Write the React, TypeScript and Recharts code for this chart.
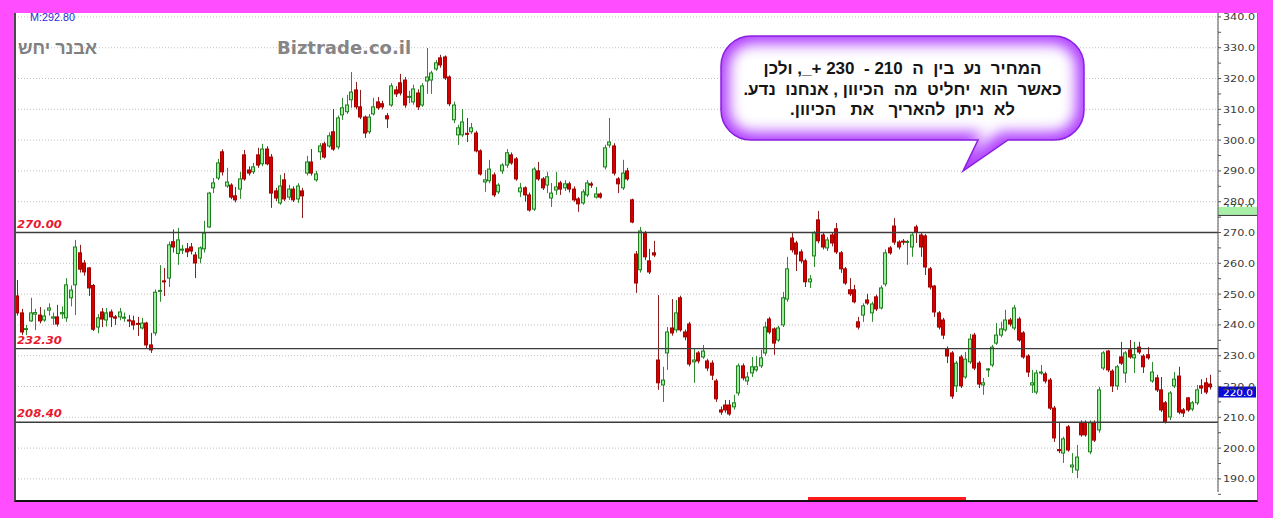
import React from "react";
import {
  ComposedChart,
  Bar,
  XAxis,
  YAxis,
  CartesianGrid,
  ReferenceLine,
} from "recharts";

// daily OHLC left to right
const opens = [
  249.4, 243.9, 238.5, 241.3, 243.5, 243.2, 241.6, 244.8, 242.2, 242.6,
  243.6, 242.3, 248.8, 253, 263.4, 260.1, 258.5, 252.8, 239.3, 244.2,
  241.6, 244.2, 242.6, 242.6, 242.3, 241.6, 241.3, 240.5, 239, 240.6,
  233.5, 237.4, 250.9, 254.3, 255.2, 267, 263.2, 264.4, 264.7, 265.3,
  262.7, 261.7, 264.7, 271.8, 284.5, 287.7, 296.2, 285.1, 285.4, 281.9,
  284.1, 295.2, 290.3, 289.7, 295.2, 292.3, 297.1, 294.5, 283.5, 279.6,
  287.1, 281.5, 284.1, 280.9, 283.5, 289.3, 292.9, 287.1, 296.2, 298.8,
  298.1, 302.7, 297.8, 308.2, 309.2, 313.1, 316.3, 310.8, 307.5, 302.7,
  308.5, 312.4, 311.8, 307.9, 311.4, 316.3, 318.6, 319.5, 314, 312.4,
  315.3, 311.4, 319.2, 319.5, 323.1, 326.7, 327, 320.5, 306.6, 301.7,
  301.7, 302.2, 302.7, 302.3, 296.5, 286.4, 286.8, 288.7, 283.2, 290,
  291.9, 295.2, 293.9, 283.2, 284.5, 282.2, 277.6, 290, 287.4, 285.4,
  281.2, 283.8, 286.1, 284.5, 285.8, 284.1, 280.9, 279.6, 282.2, 285.8,
  281.5, 282.5, 291.3, 298.4, 298.1, 287.4, 284.5, 290, 280.6, 263,
  257.9, 269.9, 260.8, 263.4, 228.6, 220.5, 230.9, 239, 238.4, 248.8,
  237.7, 240.3, 228, 230.9, 229.6, 228.3, 227.6, 221.8, 212.4, 214,
  214, 213.4, 217.9, 226.7, 221.8, 224.4, 225.4, 226.7, 230.9, 241.9,
  238.7, 235.1, 240, 248.4, 268.2, 266.6, 263.7, 260.8, 254, 262.4,
  274.1, 269.2, 265, 269.2, 271.2, 263.4, 258.2, 251.4, 251.4, 241,
  243.2, 248.1, 243.9, 249.1, 245.5, 253.3, 265, 272.1, 266.9, 267.2,
  266.8, 265.3, 271.8, 269.2, 268.9, 258.2, 252.6, 243.9, 241.6, 232.2,
  230.9, 220.2, 229.6, 223.1, 228, 236.7, 227.6, 220.5, 225.4, 227,
  234.1, 236.7, 238.4, 241.6, 239, 241.9, 237.4, 229.9, 220.5, 218.2,
  224.4, 224.1, 222.1, 213, 199.5, 198.4, 206.9, 193.9, 192.9, 208.2,
  208.2, 198.8, 208.2, 205.9, 226, 231.5, 225, 220.2, 229.6, 224.4,
  231.9, 229.3, 232.8, 229.9, 230.3, 221.8, 222.8, 218.9, 214.7, 210.1,
  220.2, 223.4, 212.4, 216.3, 212.7, 214.7, 220.2, 221.2, 220.8,
];

const highs = [
  254.6, 245.2, 240, 248.8, 245.2, 245.8, 245, 247, 244, 246.5,
  246, 255.2, 252.8, 267.6, 266, 261.1, 258.8, 253.3, 243.5, 245.5,
  245.5, 245, 243.2, 245.5, 244, 243.2, 243, 242.6, 242.3, 241,
  237.4, 251.5, 259.4, 258.5, 267, 271, 271.5, 266, 266.6, 266.6,
  263.7, 265.5, 273.8, 283.2, 287.7, 293.9, 297, 291, 286, 284.8,
  289.7, 296.8, 291.5, 292.6, 297.5, 298.8, 298, 295.5, 284.5, 288.7,
  289.3, 285.5, 285, 286, 284.5, 294.9, 297.1, 290, 299, 299.5,
  302.5, 310.1, 308, 313.7, 314.7, 322.1, 318.9, 316.3, 308, 308.5,
  313.7, 314, 312.8, 308.8, 318.5, 317.5, 321.5, 320.5, 316, 318,
  316.5, 318.5, 329.9, 322.5, 326, 327.7, 327.5, 321, 312.5, 305,
  310.1, 307.2, 305.6, 303, 297, 290.3, 293.6, 289.5, 286, 292.5,
  297.1, 296, 294.5, 286.1, 285, 283, 291.2, 292.9, 288, 289.7,
  286.1, 289.7, 286.8, 287, 286.5, 285, 281.5, 284, 287, 286.5,
  284.8, 283, 298.5, 307.2, 299, 288, 293.6, 291, 281, 264,
  271.8, 270.5, 264.7, 267.3, 249.7, 226.4, 239.3, 248.4, 248.1, 249.5,
  238.5, 241, 232.5, 231.5, 233.5, 229, 228.5, 222.5, 213.5, 215.6,
  215.6, 217.3, 227.5, 227.5, 224.7, 229.6, 229.9, 231.9, 241, 242.6,
  239.2, 239.7, 250.7, 262.1, 269.9, 267.3, 264.5, 261.5, 256.2, 270.5,
  277, 270, 268.5, 270, 273.1, 264, 258.8, 255.2, 253, 242.6,
  247, 250.1, 247.5, 249.8, 252.8, 264.5, 265.6, 274.7, 267.5, 267.9,
  267.6, 270, 272.5, 270, 269.5, 258.8, 253, 244.5, 242.3, 233,
  231.5, 228.3, 230.3, 231.2, 237.1, 237.4, 228.3, 222.8, 226, 233.5,
  240.6, 241, 244.9, 242.3, 246.5, 242.6, 238, 230.5, 225.4, 225.4,
  227, 224.8, 222.8, 213.7, 208.5, 203.7, 207.5, 198.4, 201, 209,
  209, 209, 209, 219.9, 231.5, 231.9, 225.6, 227, 234.5, 231.5,
  235.1, 234.5, 234.5, 230.5, 232.8, 228, 223.8, 223.1, 215.3, 218.5,
  224.7, 226.4, 213, 216.6, 215.3, 220.5, 222.4, 222.8, 223.8,
];

const lows = [
  243, 236.7, 236.7, 241, 238.3, 240.5, 241, 243, 240, 239.5,
  242, 241, 246, 243.2, 257, 256, 249.4, 238, 237.3, 239.3,
  239.5, 239.3, 240, 241.5, 241, 239.3, 238.4, 236.4, 238.5, 232.5,
  230.9, 236.5, 247.5, 249.4, 252.3, 263.5, 259.5, 263, 262, 262.9,
  255.2, 260, 263.5, 271.5, 282.8, 287, 288.5, 284.5, 280.8, 279.8,
  280.9, 286.8, 288.5, 289, 291, 291.5, 291.8, 278, 280.2, 279,
  280.2, 280.6, 279.9, 279.6, 274.7, 288.5, 288.5, 286.5, 293.6, 294,
  297.5, 296.5, 297, 306.6, 308.5, 310.5, 310, 306.8, 300.7, 302,
  308, 309.8, 310, 303.9, 310.8, 314, 314.5, 310.5, 312, 311.5,
  309.8, 310.8, 315, 315, 322.5, 323.5, 319.5, 311, 305.5, 298.4,
  301, 299.4, 302, 296, 288.5, 283.2, 286, 281.5, 282.5, 289,
  291, 292, 286.8, 281.5, 280, 276.8, 277, 286.8, 283.8, 282.8,
  278.3, 282.2, 282.2, 283.5, 283, 280, 276.7, 279, 281.5, 284.5,
  281, 281, 290.5, 297.5, 288.5, 282.8, 283.8, 286.8, 273, 250.4,
  257, 261, 256.5, 262, 218.9, 215, 225.4, 236.5, 237.5, 237.8,
  235, 226.5, 221.2, 227.5, 229, 225, 222.1, 215, 210.8, 211.5,
  210.5, 212.5, 217, 222, 220.5, 223.1, 224.8, 226, 230, 237,
  230.3, 234.5, 239.3, 247.5, 263.5, 257.5, 260, 252.3, 252, 258.8,
  266.5, 264.5, 264, 265.5, 263, 256.9, 253, 249.4, 247, 238.5,
  241, 246.5, 241, 244.5, 245, 252.5, 262.8, 266, 264.5, 266,
  259.5, 262.1, 266.6, 262.1, 256.2, 251.5, 242.6, 238.5, 235.4, 227.6,
  216, 218.2, 219.5, 222.5, 227.3, 225.3, 219.5, 217.3, 223.1, 226.3,
  233.5, 236, 237.8, 239.5, 238.3, 234.5, 229, 223.1, 217.9, 217.5,
  223.8, 221, 212.4, 202, 198.4, 195.2, 198.8, 191.9, 190.3, 203.7,
  203.7, 198, 202, 205, 225.3, 224.7, 218.2, 218.9, 227, 221.2,
  229, 224.4, 230.5, 224.4, 228.7, 221.2, 218.2, 211.7, 208, 209.1,
  219.5, 211, 210.1, 211.8, 212, 214, 217.6, 217.5, 219,
];

const closes = [
  243.9, 237.7, 238.8, 243.9, 244, 241.3, 242.9, 245.5, 242.6, 240.3,
  244, 253, 251.3, 265.3, 258.1, 257.2, 252, 238.6, 242.3, 241.9,
  243.9, 242.6, 242.2, 244.2, 242.5, 241.3, 240, 240.2, 240.6, 233.5,
  231.9, 250.6, 251.2, 254, 266, 265.3, 267.6, 264.6, 263.7, 264,
  260.1, 265, 269.8, 282.8, 286.1, 292.6, 289.7, 286.4, 281.5, 280.6,
  287.4, 287.4, 289.3, 291.3, 291.9, 297.1, 292.3, 282.8, 281.2, 285.1,
  280.9, 284.1, 280.6, 285.1, 281.9, 292.9, 289.3, 289, 298.1, 294.5,
  301.4, 297.1, 307.2, 310.5, 311.4, 315.6, 310.8, 307.5, 302.3, 307.5,
  310.8, 310.5, 310.8, 306.9, 317.6, 315, 315.3, 311.4, 314.2, 316.6,
  310.8, 317.6, 320.5, 321.8, 325.1, 324.4, 320.2, 311.8, 311.4, 304,
  305.9, 301.9, 304, 296.5, 289, 287.1, 290.6, 282.2, 285.4, 291.9,
  295.9, 292.6, 287.4, 284.5, 282.2, 277.3, 290.6, 287.4, 284.5, 288.1,
  282.8, 284.8, 284.1, 285.8, 284.1, 280.6, 279.3, 283.2, 286.1, 285.4,
  282.5, 281.5, 297.5, 299.4, 289.3, 285.8, 289.3, 287.4, 273.4, 253.6,
  270.5, 262.1, 257.2, 262.7, 221.2, 222.1, 237.7, 237.4, 243.9, 238.4,
  236.1, 227.3, 228.6, 228.3, 231.5, 226, 223.7, 216, 211.7, 212.4,
  211.1, 214.7, 226.7, 222.8, 223.1, 226.4, 226.4, 229.3, 239.3, 237.7,
  234.1, 239, 248.8, 258.2, 264.4, 263, 260.8, 254, 254.9, 269.9,
  267.3, 265.3, 267.6, 266.6, 263.7, 258.2, 253.6, 250.1, 247.5, 239.3,
  246.2, 247.1, 246.8, 245.2, 252, 263.4, 263.4, 266.9, 265.3, 266.9,
  267.1, 269.2, 270.2, 265.3, 258.8, 252.3, 244.2, 239.3, 236.7, 229.9,
  216.9, 227.6, 220.2, 228.9, 235.4, 226, 220.8, 221.2, 225.7, 232.8,
  236.7, 238.7, 241.6, 240.3, 245.5, 235.1, 229.6, 224.7, 221.2, 224.4,
  224.7, 221.8, 213, 203.3, 199.3, 203, 199.4, 194.5, 197.1, 204.3,
  204.3, 208.2, 202.6, 218.9, 230.9, 225.4, 220.2, 226.4, 227.6, 230.9,
  229.6, 230.3, 231.2, 226.4, 229.3, 224.7, 218.9, 212.4, 208.5, 217.9,
  222.4, 211.7, 211.4, 212.4, 214.7, 218.9, 219.5, 218.2, 219.9,
];

// candle index where each month gridline falls
const monthTicks = [20, 41, 60, 80, 102, 123, 145, 160, 179, 201, 224, 245, 266];

const yMajor = [190, 200, 210, 220, 230, 240, 250, 260, 270, 280, 290, 300, 310, 320, 330, 340];
const yTicks = [
  185, 190, 195, 200, 205, 210, 215, 220, 225, 230, 235, 240, 245, 250, 255, 260,
  265, 270, 275, 280, 285, 290, 295, 300, 305, 310, 315, 320, 325, 330, 335, 340,
];
const yDomain = [185.75, 341.27];

const levels = [270, 232.3, 208.4];
const levelLabels = ["270.00", "232.30", "208.40"];

const lastPrice = 220;
const markerPrice = 278.3;

const bubbleLines = [
  "המחיר  נע  בין  ה  210 -  230 +_, ולכן",
  "כאשר  הוא  יחליט  מה  הכיוון , אנחנו  נדע.",
  "לא  ניתן  להאריך   את   הכיוון.",
];

const candles = opens.map((o, i) => ({
  i,
  open: o,
  high: highs[i],
  low: lows[i],
  close: closes[i],
}));

const Candle = (props: any) => {
  const { x, y, width, height, payload } = props;
  if (x == null || y == null || !payload) return null;
  const top = height < 0 ? y + height : y;
  const h = Math.abs(height);
  const range = payload.high - payload.low;
  const toY = (v: number) => (range === 0 ? top : top + ((payload.high - v) / range) * h);
  const cx = Math.round(x + width / 2) + 0.5;
  const up = payload.close >= payload.open;
  const yo = toY(payload.open);
  const yc = toY(payload.close);
  const bodyTop = Math.min(yo, yc);
  const bodyH = Math.max(Math.abs(yc - yo), 1);
  return (
    <g>
      <line x1={cx} x2={cx} y1={top} y2={top + h} stroke={up ? "#2e8b2e" : "#8e1f1f"} strokeWidth={1} />
      <rect
        x={cx - 2}
        y={bodyTop}
        width={3}
        height={bodyH}
        fill={up ? "#9cec9c" : "#d40000"}
        stroke={up ? "#1f7f1f" : "#a30000"}
        strokeWidth={1}
      />
    </g>
  );
};

const YTick = (props: any) => {
  const { x, y, payload } = props;
  if (payload.value % 10 !== 0) return <g />;
  return (
    <text
      x={x}
      y={y}
      dy={3.5}
      fontSize={9.5}
      fontFamily="DejaVu Sans"
      fill="#3a3a3a"
      textLength={32}
      lengthAdjust="spacingAndGlyphs"
    >
      {payload.value.toFixed(1)}
    </text>
  );
};

const levelLabel = (text: string) => (props: any) => {
  const vb = props.viewBox || {};
  return (
    <text
      x={vb.x + 2}
      y={vb.y - 5}
      fontSize={10.5}
      fontFamily="DejaVu Sans"
      fontStyle="italic"
      fontWeight="bold"
      fill="#e8182e"
      textLength={45}
      lengthAdjust="spacingAndGlyphs"
    >
      {text}
    </text>
  );
};

const lastLabel = (props: any) => {
  const vb = props.viewBox || {};
  const x0 = vb.x + vb.width;
  return (
    <g>
      <rect x={x0} y={vb.y} width={38} height={11} fill="#0a0ad8" />
      <text x={x0 + 5} y={vb.y + 9} fontSize={9.5} fontFamily="DejaVu Sans" fill="#ffffff" textLength={30} lengthAdjust="spacingAndGlyphs">
        {lastPrice.toFixed(1)}
      </text>
    </g>
  );
};

const markerLabel = (props: any) => {
  const vb = props.viewBox || {};
  const x0 = vb.x + vb.width;
  return (
    <g>
      <text x={x0 + 5} y={vb.y + 4} fontSize={9.5} fontFamily="DejaVu Sans" fill="#2d5f2d" textLength={30} lengthAdjust="spacingAndGlyphs">
        273.9
      </text>
      <rect x={x0} y={vb.y} width={39} height={8} fill="#a8efa8" />
      <line x1={x0} x2={x0 + 39} y1={vb.y + 8.5} y2={vb.y + 8.5} stroke="#333" />
    </g>
  );
};

const bubblePath =
  "M 751 36 H 1054 A 30 30 0 0 1 1084 66 V 110 A 30 30 0 0 1 1054 140 H 1008 L 963 171 L 978 140 H 751 A 30 30 0 0 1 721 110 V 66 A 30 30 0 0 1 751 36 Z";

export default function App() {
  return (
    <div style={{ position: "relative", width: 1273, height: 518, background: "#ff4dff", overflow: "hidden" }}>
      <style>{`body{margin:0}`}</style>

      <div
        style={{
          position: "absolute",
          left: 14,
          top: 13,
          width: 1244,
          height: 489,
          background: "#fff",
          borderLeft: "2px solid #4a4a4a",
          borderRight: "1px solid #777",
          borderBottom: "2px solid #111",
          boxSizing: "border-box",
          overflow: "hidden",
        }}
      >
        <div style={{ position: "absolute", left: -16, top: -13 }}>
          <ComposedChart
            width={1273}
            height={518}
            data={candles}
            margin={{ top: 13, right: 16, bottom: 26, left: 15 }}
          >
            <CartesianGrid stroke="#c2c2c2" strokeDasharray="1 2" horizontalValues={yMajor} />
            <XAxis
              dataKey="i"
              type="category"
              ticks={monthTicks}
              interval={0}
              tick={false}
              tickLine={false}
              axisLine={false}
              height={0}
              padding={{ left: 0, right: 6 }}
            />
            <YAxis
              orientation="right"
              width={39}
              domain={yDomain}
              allowDataOverflow
              ticks={yTicks}
              interval={0}
              tickSize={3}
              tickMargin={2}
              tick={YTick}
              axisLine={{ stroke: "#555" }}
              tickLine={{ stroke: "#555" }}
            />
            {levels.map((lv, k) => (
              <ReferenceLine key={lv} y={lv} stroke="#3c3c3c" strokeWidth={1.3} label={levelLabel(levelLabels[k])} />
            ))}
            <ReferenceLine y={markerPrice} stroke="none" label={markerLabel} />
            <ReferenceLine y={lastPrice} stroke="none" label={lastLabel} />
            <Bar
              dataKey={(d: any) => [d.low, d.high]}
              shape={Candle}
              isAnimationActive={false}
            />
          </ComposedChart>
        </div>
      </div>

      {/* header texts */}
      <svg width={1273} height={518} style={{ position: "absolute", left: 0, top: 0, pointerEvents: "none" }}>
        <text x={30} y={20.5} fontSize={10} fontFamily="Liberation Sans" fill="#2b2bd6" textLength={45} lengthAdjust="spacingAndGlyphs">
          M:292.80
        </text>
        <text x={277} y={54} fontSize={18} fontWeight="bold" fontFamily="DejaVu Sans" fill="#858585">
          Biztrade.co.il
        </text>
      </svg>
      <div
        style={{
          position: "absolute",
          left: 18,
          top: 40,
          fontFamily: "'Liberation Sans', 'DejaVu Sans', sans-serif",
          fontWeight: "bold",
          fontSize: 18,
          lineHeight: "17px",
          color: "#808080",
          direction: "rtl",
          whiteSpace: "pre",
        }}
      >
        <span>אבנר</span> <span>יחש</span>
      </div>

      {/* callout bubble */}
      <svg width={1273} height={518} style={{ position: "absolute", left: 0, top: 0, pointerEvents: "none" }}>
        <defs>
          <clipPath id="bubbleClip">
            <path d={bubblePath} />
          </clipPath>
          <filter id="soft" x="-10%" y="-10%" width="120%" height="120%">
            <feGaussianBlur stdDeviation="7" />
          </filter>
        </defs>
        <g clipPath="url(#bubbleClip)">
          <rect x={700} y={30} width={400} height={150} fill="#b040ff" />
          <path
            d="M 755 44 H 1050 A 24 24 0 0 1 1076 68 V 108 A 24 24 0 0 1 1050 132 H 1000 L 968 158 L 982 132 H 755 A 24 24 0 0 1 729 108 V 68 A 24 24 0 0 1 755 44 Z"
            fill="#ffffff"
            filter="url(#soft)"
          />
        </g>
        <path d={bubblePath} fill="none" stroke="#8a1fe0" strokeWidth={1.5} />
      </svg>
      <div
        style={{
          position: "absolute",
          left: 721,
          top: 59,
          width: 363,
          textAlign: "center",
          fontFamily: "'Liberation Sans', 'DejaVu Sans', sans-serif",
          fontWeight: "bold",
          fontSize: 17,
          lineHeight: "20.5px",
          color: "#151515",
          direction: "rtl",
          whiteSpace: "pre",
        }}
      >
        {bubbleLines.map((line, k) => (
          <div key={k}>
            {line.split(" ").map((w, j) => (
              <React.Fragment key={j}>
                {j > 0 ? " " : ""}
                {w ? <span>{w}</span> : null}
              </React.Fragment>
            ))}
          </div>
        ))}
      </div>

      {/* red strip on the date row */}
      <div style={{ position: "absolute", left: 808, top: 497, width: 158, height: 3, background: "#ff1a1a" }} />
    </div>
  );
}
